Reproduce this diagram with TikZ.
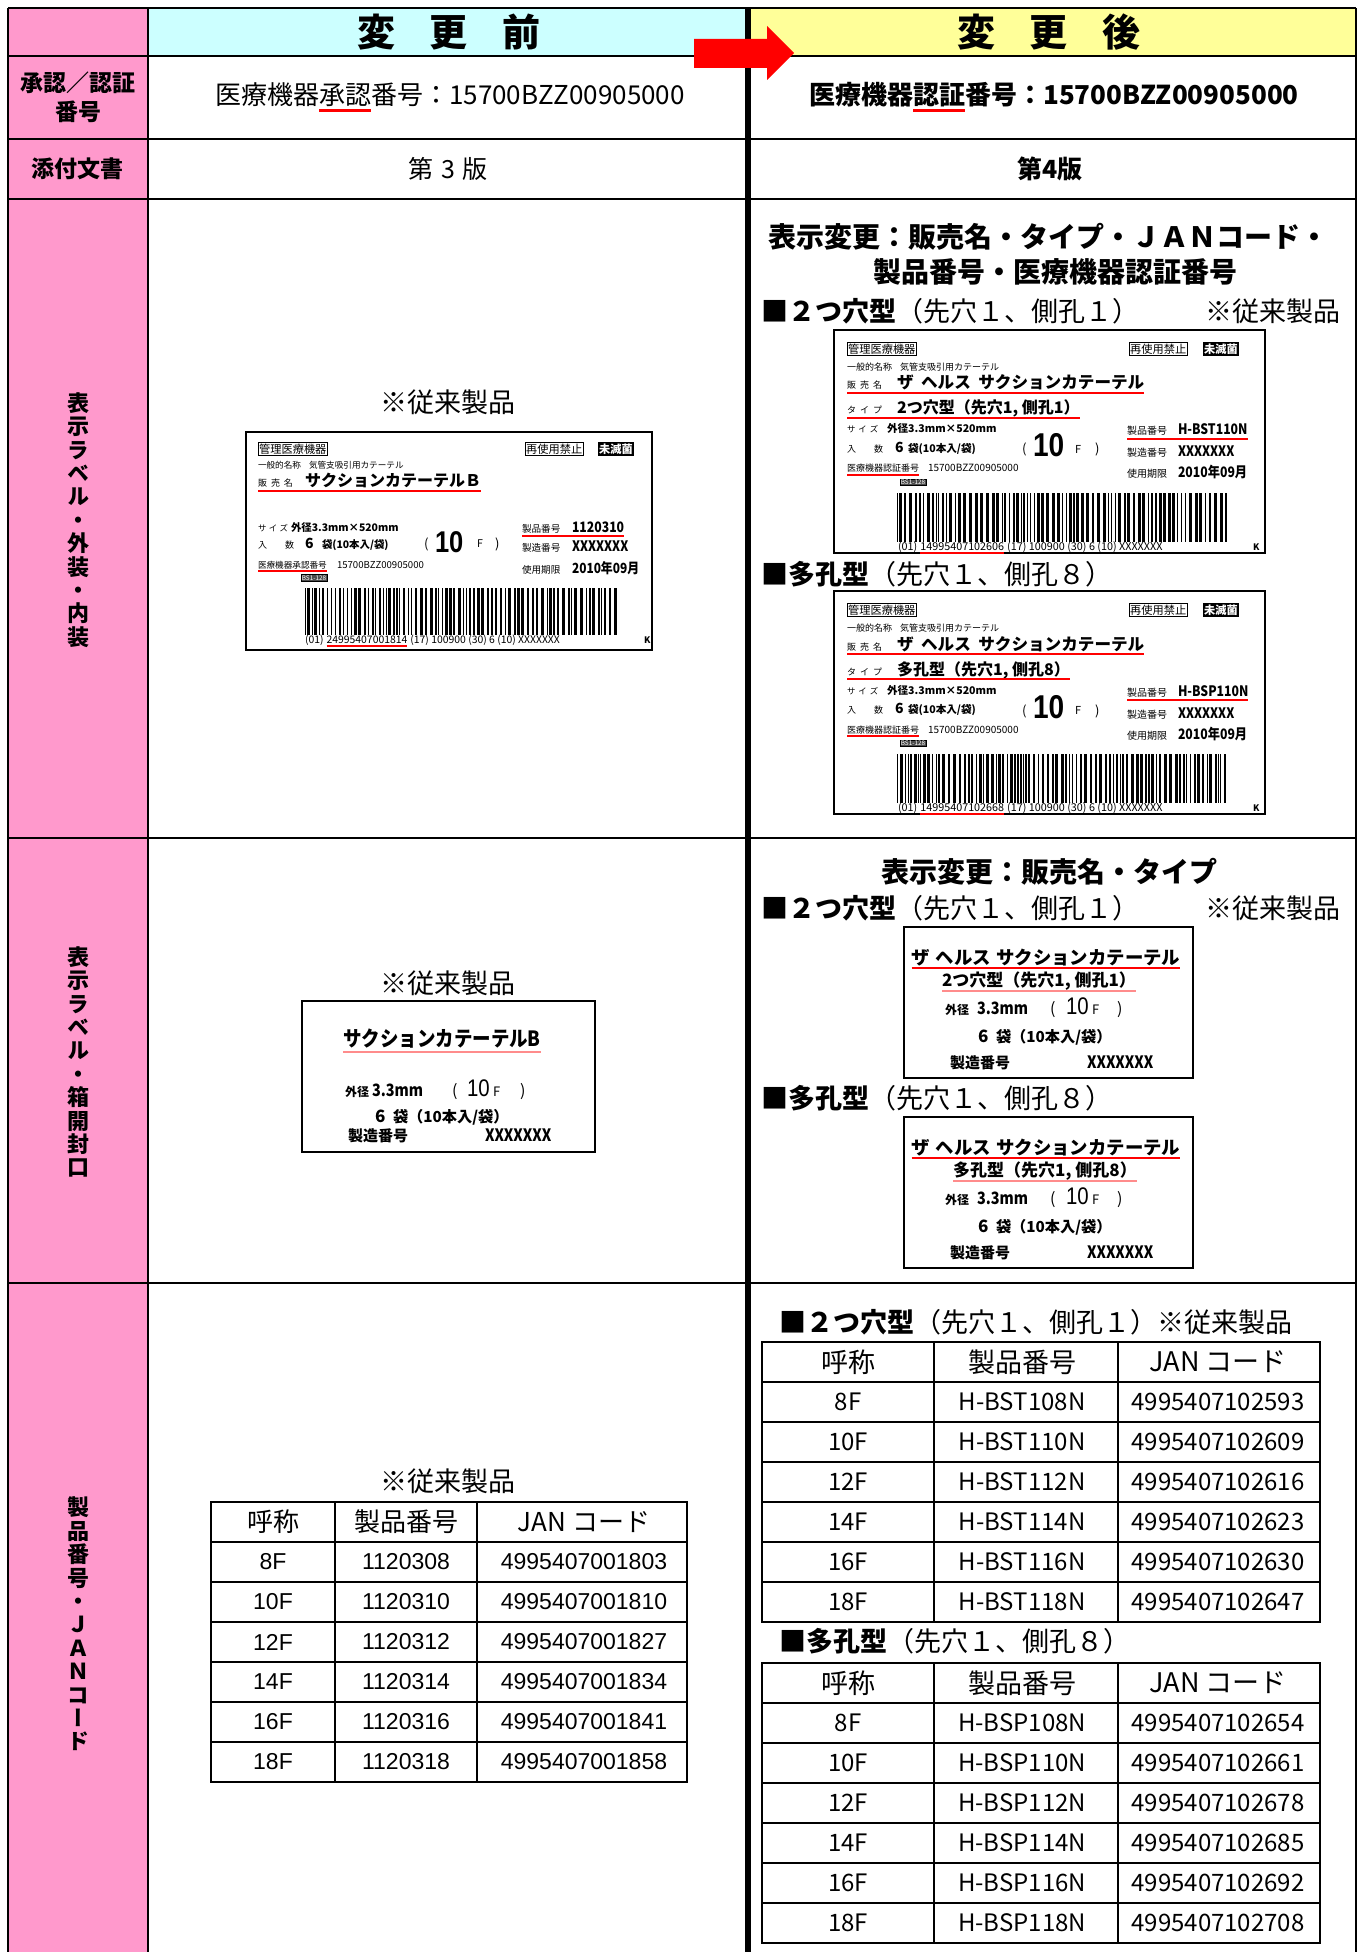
\documentclass[tikz,border=0pt]{standalone}
\usepackage{fontspec}
\setmainfont{Noto Sans CJK JP}
\newfontfamily\vjp{Noto Sans CJK JP}[RawFeature=+vert]
\newfontfamily\lsans{Liberation Sans}
\usetikzlibrary{calc}
\definecolor{pinkc}{HTML}{FF99CC}
\definecolor{cyanc}{HTML}{CCFFFF}
\definecolor{yellc}{HTML}{FFFF99}
\newcommand\fsz[1]{\fontsize{#1}{#1}\selectfont}
\newcommand\thd{\normalfont\fsz{13}}
\newcommand\rthd{\normalfont\fsz{13.5}}
\newcommand\cnd[1]{\scalebox{0.85}[1]{#1}}
\newsavebox\ulbox
\newcommand\redul[1]{\sbox\ulbox{#1}\rlap{\color{red}\rule[-0.3em]{\wd\ulbox}{0.12em}}\usebox\ulbox}
\newcommand\bcode[5]{%
  \pgfmathsetseed{#5}%
  \pgfmathsetmacro\bcend{#1+#3-3}%
  \edef\bcpos{#1}%
  \loop
    \pgfmathsetmacro\bcw{0.9*random(1,3)+0.3}%
    \pgfmathsetmacro\bcs{0.9*random(1,3)+0.3}%
    \fill (\bcpos,#2) rectangle ++(\bcw,#4);
    \pgfmathsetmacro\bcpos{\bcpos+\bcw+\bcs}%
  \ifdim\bcpos pt<\bcend pt\repeat
}
\tikzset{
  tx/.style={inner sep=0pt, outer sep=0pt},
  gridl/.style={line width=1.2pt},
  midl/.style={line width=3.2pt},
  tbl/.style={line width=0.8pt},
  lblbox/.style={line width=1.1pt},
  ul/.style={red, line width=0.55pt},
  ulp/.style={red!45, line width=0.7pt},
  tag/.style={tx, draw, line width=0.35pt, inner xsep=0.6pt, inner ysep=0.5pt, anchor=west, font=\fsz{5.6}},
  blk/.style={tx, fill=black, text=white, inner xsep=0.6pt, inner ysep=0.8pt, anchor=west, font=\fsz{5.6}\bfseries},
  bs/.style={tx, draw, fill=black!70, text=white, inner sep=0.4pt, font=\fsz{3.2}},
  vlab/.style={tx, align=center, font=\vjp\bfseries\fontsize{11}{11.7}\selectfont},
  ltab/.style={tx, font=\lsans\fsz{11.5}},
  rtab/.style={tx, font=\fsz{12}},
}
\newcommand\rlbl[7]{%
\begin{scope}[shift={(#2,#3)}]
\draw[lblbox] (0,0) rectangle (431,223);
\node[tag] (#1a) at (13,19) {管理医療機器};
\node[tag] (#1b) at (295,19) {再使用禁止};
\node[blk] (#1c) at (369,19) {未滅菌};
\node[tx, anchor=west, font=\fsz{4.5}] (#1d) at (13,37) {一般的名称\hspace{4pt}気管支吸引用カテーテル};
\node[tx, anchor=base west, font=\fsz{4.5}] (#1e) at (13,59) {販\hspace{2pt}売\hspace{2pt}名};
\node[tx, anchor=base west, font=\fsz{8.3}\bfseries] (#1f) at (63,59) {ザ\hspace{0.45em}ヘルス\hspace{0.45em}サクションカテーテル};
\draw[ul] ($(#1e.base west)+(0,4)$) -- ($(#1f.base east)+(0,4)$);
\node[tx, anchor=base west, font=\fsz{4.5}] (#1g) at (13,84) {タ\hspace{2pt}イ\hspace{2pt}プ};
\node[tx, anchor=base west, font=\fsz{8}\bfseries] (#1h) at (63,84) {#4};
\draw[ul] ($(#1g.base west)+(0,4)$) -- ($(#1h.base east)+(0,4)$);
\node[tx, anchor=base west, font=\fsz{4.2}] (#1i) at (13,103) {サ\hspace{1.5pt}イ\hspace{1.5pt}ズ};
\node[tx, anchor=base west, font=\fsz{5.3}\bfseries] (#1j) at (53,103) {外径3.3mm×520mm};
\node[tx, anchor=base west, font=\fsz{4.5}] (#1k) at (13,122) {入\hspace{9pt}数};
\node[tx, anchor=base west, font=\fsz{7}\bfseries] (#1l) at (61,122) {6};
\node[tx, anchor=base west, font=\fsz{5.3}\bfseries] (#1m) at (74,122) {袋(10本入/袋)};
\node[tx, anchor=base west, font=\fsz{6.5}] (#1n) at (188,124) {(};
\node[tx, anchor=base west, font=\lsans\fsz{16.5}\bfseries] (#1o) at (199,127) {\cnd{10}};
\node[tx, anchor=base west, font=\fsz{5.5}] (#1p) at (241,123) {F};
\node[tx, anchor=base west, font=\fsz{6.5}] (#1q) at (261,124) {)};
\node[tx, anchor=base west, font=\fsz{5}] (#1r) at (293,105) {製品番号};
\node[tx, anchor=base west, font=\fsz{7.2}\bfseries] (#1s) at (344,105) {\cnd{#5}};
\draw[ul] ($(#1r.base west)+(0,4)$) -- ($(#1s.base east)+(0,4)$);
\node[tx, anchor=base west, font=\fsz{5}] (#1t) at (293,127) {製造番号};
\node[tx, anchor=base west, font=\fsz{7.2}\bfseries] (#1u) at (344,127) {\cnd{XXXXXXX}};
\node[tx, anchor=base west, font=\fsz{5}] (#1v) at (293,148) {使用期限};
\node[tx, anchor=base west, font=\fsz{7.2}\bfseries] (#1w) at (344,148) {\cnd{2010年09月}};
\node[tx, anchor=base west, font=\fsz{4.5}] (#1x) at (13,142) {医療機器認証番号};
\draw[ul] ($(#1x.base west)+(0,3)$) -- ($(#1x.base east)+(0,3)$);
\node[tx, anchor=base west, font=\fsz{5}] (#1y) at (94,142) {15700BZZ00905000};
\node[bs] (#1z) at (79,152.5) {BS1-128};
\bcode{63}{163}{333}{49}{#7}
\node[tx, anchor=base west, font=\fsz{5.4}] (#1ba) at (64,220) {(01)};
\node[tx, anchor=base west, font=\fsz{5.4}, xshift=1.5pt] (#1bb) at (#1ba.base east) {#6};
\node[tx, anchor=base west, font=\fsz{5.4}, xshift=1.5pt] (#1bc) at (#1bb.base east) {(17) 100900 (30) 6 (10) XXXXXXX};
\draw[ul] ($(#1bb.base west)+(0,3)$) -- ($(#1bb.base east)+(0,3)$);
\node[tx, anchor=base west, font=\fsz{4.5}\bfseries] (#1bk) at (419,220) {K};
\end{scope}}
\newcommand\mlbl[5]{%
\begin{scope}[shift={(#2,#3)}]
\draw[lblbox] (0,0) rectangle (289,151);
\node[tx, anchor=base, font=\fsz{9.2}\bfseries] (#1n) at (142,37) {ザ\hspace{0.3em}ヘルス\hspace{0.3em}サクションカテーテル};
\draw[ul] ($(#1n.base west)+(0,4)$) -- ($(#1n.base east)+(0,4)$);
\node[tx, anchor=base, font=\fsz{8.5}\bfseries] (#1t) at (#5,59) {#4};
\draw[ulp] ($(#1t.base west)+(0,5)$) -- ($(#1t.base east)+(0,5)$);
\node[tx, anchor=base west, font=\fsz{6}\bfseries] (#1g) at (41,87) {外径};
\node[tx, anchor=base west, font=\fsz{8.5}\bfseries] (#1s) at (73,87) {\cnd{3.3mm}};
\node[tx, anchor=base west, font=\fsz{8}] (#1p) at (146,87) {(};
\node[tx, anchor=base west, font=\lsans\fsz{12}] (#1o) at (162,87) {\cnd{10}};
\node[tx, anchor=base west, font=\fsz{6.5}] (#1f) at (188,87) {F};
\node[tx, anchor=base west, font=\fsz{8}] (#1q) at (213,87) {)};
\node[tx, anchor=base west, font=\fsz{8.5}\bfseries] (#1six) at (74,115) {6};
\node[tx, anchor=base west, font=\fsz{7.6}\bfseries] (#1bag) at (92,115) {袋（10本入/袋）};
\node[tx, anchor=base west, font=\fsz{7.5}\bfseries] (#1mk) at (46,141) {製造番号};
\node[tx, anchor=base west, font=\fsz{8.5}\bfseries] (#1xx) at (183,141) {\cnd{XXXXXXX}};
\end{scope}}
\begin{document}
\begin{tikzpicture}[x=0.5pt,y=-0.5pt]
\useasboundingbox (0,0) rectangle (1359,1952);
\fill[white] (0,0) rectangle (1359,1952);
\fill[pinkc] (8,8) rectangle (148,1952);
\fill[cyanc] (148,8) rectangle (748,56);
\fill[yellc] (748,8) rectangle (1356,56);
\foreach \y in {8,56,139,199,838,1283} \draw[gridl] (8,\y) -- (1356,\y);
\draw[gridl] (8,8) -- (8,1952);
\draw[gridl] (148,8) -- (148,1952);
\draw[gridl] (1356,8) -- (1356,1952);
\draw[midl] (748,8) -- (748,1952);
% header row
\node[tx, font=\fsz{19}\bfseries] (hbefore) at (449,32) {変\hspace{0.9em}更\hspace{0.9em}前};
\node[tx, font=\fsz{19}\bfseries] (hafter) at (1049,32) {変\hspace{0.9em}更\hspace{0.9em}後};
% row 2
\node[tx, align=center, font=\bfseries\fontsize{11.5}{14.5}\selectfont] (r2lab) at (78,97) {承認／認証\\番号};
\node[tx, font=\fsz{13}] (r2l) at (450,97) {医療機器\redul{承認}番号：15700BZZ00905000};
\node[tx, font=\fsz{13}\bfseries] (r2r) at (1054,97) {医療機器\redul{認証}番号：15700BZZ00905000};
% row 3
\node[tx, font=\fsz{11.5}\bfseries] (r3lab) at (78,169) {添付文書};
\node[tx, font=\fsz{12.5}] (r3l) at (448,169) {第\hspace{0.3em}3\hspace{0.3em}版};
\node[tx, font=\fsz{12.5}\bfseries] (r3r) at (1050,169) {第4版};
% vertical labels
\node[vlab] (v4) at (78,520) {表\\示\\ラ\\ベ\\ル\\・\\外\\装\\・\\内\\装};
\node[vlab] (v5) at (78,1062) {表\\示\\ラ\\ベ\\ル\\・\\箱\\開\\封\\口};
\node[vlab] (v6) at (78,1624) {製\\品\\番\\号\\・\\Ｊ\\Ａ\\Ｎ\\コ\\ー\\ド};
% row 4 left
\node[tx, font=\fsz{13.5}] (c4l) at (448,402) {※従来製品};
\begin{scope}[shift={(246,432)}]
\draw[lblbox] (0,0) rectangle (406,218);
\node[tag] (La) at (12,17) {管理医療機器};
\node[tag] (Lb) at (279,17) {再使用禁止};
\node[blk] (Lc) at (352,17) {未滅菌};
\node[tx, anchor=west, font=\fsz{4.3}] (Ld) at (12,33) {一般的名称\hspace{4pt}気管支吸引用カテーテル};
\node[tx, anchor=base west, font=\fsz{4.5}] (Le) at (12,55) {販\hspace{2pt}売\hspace{2pt}名};
\node[tx, anchor=base west, font=\fsz{8}\bfseries] (Lf) at (59,55) {サクションカテーテルＢ};
\draw[ul] ($(Le.base west)+(0,4)$) -- ($(Lf.base east)+(0,4)$);
\node[tx, anchor=base west, font=\fsz{4.2}] (Lg) at (12,99) {サ\hspace{1.2pt}イ\hspace{1.2pt}ズ};
\node[tx, anchor=base west, font=\fsz{5.2}\bfseries] (Lh) at (45,99) {外径3.3mm×520mm};
\node[tx, anchor=base west, font=\fsz{4.5}] (Li) at (12,116) {入\hspace{9pt}数};
\node[tx, anchor=base west, font=\fsz{7}\bfseries] (Lj) at (59,116) {6};
\node[tx, anchor=base west, font=\fsz{5.2}\bfseries] (Lk) at (76,116) {袋(10本入/袋)};
\node[tx, anchor=base west, font=\fsz{6.5}] (Ll) at (178,116) {(};
\node[tx, anchor=base west, font=\lsans\fsz{15}\bfseries] (Lm) at (189,120) {\cnd{10}};
\node[tx, anchor=base west, font=\fsz{5.3}] (Ln) at (231,115) {F};
\node[tx, anchor=base west, font=\fsz{6.5}] (Lo) at (249,116) {)};
\node[tx, anchor=base west, font=\fsz{4.8}] (Lp) at (276,100) {製品番号};
\node[tx, anchor=base west, font=\fsz{7.2}\bfseries] (Lq) at (326,100) {\cnd{1120310}};
\draw[ul] ($(Lp.base west)+(0,4)$) -- ($(Lq.base east)+(0,4)$);
\node[tx, anchor=base west, font=\fsz{4.8}] (Lr) at (276,119) {製造番号};
\node[tx, anchor=base west, font=\fsz{7.2}\bfseries] (Ls) at (326,119) {\cnd{XXXXXXX}};
\node[tx, anchor=base west, font=\fsz{4.8}] (Lt) at (276,141) {使用期限};
\node[tx, anchor=base west, font=\fsz{7}\bfseries] (Lu) at (326,141) {\cnd{2010年09月}};
\node[tx, anchor=base west, font=\fsz{4.3}] (Lv) at (12,136) {医療機器承認番号};
\draw[ul] ($(Lv.base west)+(0,3)$) -- ($(Lv.base east)+(0,3)$);
\node[tx, anchor=base west, font=\fsz{4.8}] (Lw) at (91,136) {15700BZZ00905000};
\node[bs] (Lz) at (68,146) {BS1-128};
\bcode{59}{156}{316}{47}{7}
\node[tx, anchor=base west, font=\fsz{5.2}] (Lba) at (59,211) {(01)};
\node[tx, anchor=base west, font=\fsz{5.2}, xshift=1.5pt] (Lbb) at (Lba.base east) {24995407001814};
\node[tx, anchor=base west, font=\fsz{5.2}, xshift=1.5pt] (Lbc) at (Lbb.base east) {(17) 100900 (30) 6 (10) XXXXXXX};
\draw[ul] ($(Lbb.base west)+(0,3)$) -- ($(Lbb.base east)+(0,3)$);
\node[tx, anchor=base west, font=\fsz{4.5}\bfseries] (Lbk) at (398,211) {K};
\end{scope}
% row 4 right
\node[tx, font=\fsz{14}\bfseries] (h4a) at (1048,237) {表示変更：販売名・タイプ・ＪＡＮコード・};
\node[tx, font=\fsz{14}\bfseries] (h4b) at (1055,272) {製品番号・医療機器認証番号};
\node[tx, anchor=west, font=\fsz{13.5}] (h4c) at (761,311) {{\bfseries ■２つ穴型}（先穴１、側孔１）};
\node[tx, anchor=east, font=\fsz{13.5}] (h4d) at (1340,311) {※従来製品};
\rlbl{RA}{834}{330}{2つ穴型（先穴1, 側孔1）}{H-BST110N}{14995407102606}{3}
\node[tx, anchor=west, font=\fsz{13.5}] (h4e) at (761,574) {{\bfseries ■多孔型}（先穴１、側孔８）};
\rlbl{RB}{834}{591}{多孔型（先穴1, 側孔8）}{H-BSP110N}{14995407102668}{5}
% row 5 left
\node[tx, font=\fsz{13.5}] (c5l) at (448,983) {※従来製品};
\begin{scope}[shift={(302,1001)}]
\draw[lblbox] (0,0) rectangle (293,151);
\node[tx, anchor=base, font=\fsz{10.5}\bfseries] (Mn) at (140,45) {\scalebox{0.88}[1]{サクションカテーテルB}};
\draw[ulp] ($(Mn.base west)+(0,6)$) -- ($(Mn.base east)+(0,6)$);
\node[tx, anchor=base west, font=\fsz{6}\bfseries] (Mg) at (43,95) {外径};
\node[tx, anchor=base west, font=\fsz{8.5}\bfseries] (Ms) at (70,95) {\cnd{3.3mm}};
\node[tx, anchor=base west, font=\fsz{8}] (Mp) at (150,95) {(};
\node[tx, anchor=base west, font=\lsans\fsz{12}] (Mo) at (165,95) {\cnd{10}};
\node[tx, anchor=base west, font=\fsz{6.5}] (Mf) at (191,95) {F};
\node[tx, anchor=base west, font=\fsz{8}] (Mq) at (218,95) {)};
\node[tx, anchor=base west, font=\fsz{8.5}\bfseries] (Msix) at (73,121) {6};
\node[tx, anchor=base west, font=\fsz{7.6}\bfseries] (Mbag) at (91,121) {袋（10本入/袋）};
\node[tx, anchor=base west, font=\fsz{7.5}\bfseries] (Mmk) at (46,140) {製造番号};
\node[tx, anchor=base west, font=\fsz{8.5}\bfseries] (Mxx) at (183,140) {\cnd{XXXXXXX}};
\end{scope}
% row 5 right
\node[tx, font=\fsz{14}\bfseries] (h5a) at (1049,872) {表示変更：販売名・タイプ};
\node[tx, anchor=west, font=\fsz{13.5}] (h5b) at (761,908) {{\bfseries ■２つ穴型}（先穴１、側孔１）};
\node[tx, anchor=east, font=\fsz{13.5}] (h5c) at (1340,908) {※従来製品};
\mlbl{MA}{904}{927}{2つ穴型（先穴1, 側孔1）}{135}
\node[tx, anchor=west, font=\fsz{13.5}] (h5d) at (761,1098) {{\bfseries ■多孔型}（先穴１、側孔８）};
\mlbl{MB}{904}{1117}{多孔型（先穴1, 側孔8）}{141}
% row 6 left table
\node[tx, font=\fsz{13.5}] (c6l) at (448,1481) {※従来製品};
\draw[tbl] (211,1502) rectangle (687,1782);
\foreach \y in {1542,1582,1622,1662,1702,1742} \draw[tbl] (211,\y) -- (687,\y);
\draw[tbl] (335,1502) -- (335,1782);
\draw[tbl] (477,1502) -- (477,1782);
\foreach \a/\b/\c [count=\i from 0] in {{\thd 呼称}/{\thd 製品番号}/{\thd JAN コード}, 8F/1120308/4995407001803, 10F/1120310/4995407001810, 12F/1120312/4995407001827, 14F/1120314/4995407001834, 16F/1120316/4995407001841, 18F/1120318/4995407001858}{
  \node[ltab] (lt\i-a) at (273,1522+40*\i) {\a};
  \node[ltab] (lt\i-b) at (406,1522+40*\i) {\b};
  \node[ltab] (lt\i-c) at (584,1522+40*\i) {\c};
}
% row 6 right tables
\node[tx, anchor=west, font=\fsz{13.5}] (h6a) at (779,1322) {{\bfseries ■２つ穴型}（先穴１、側孔１）※従来製品};
\draw[tbl] (762,1342) rectangle (1320,1622);
\foreach \y in {1382,1422,1462,1502,1542,1582} \draw[tbl] (762,\y) -- (1320,\y);
\draw[tbl] (934,1342) -- (934,1622);
\draw[tbl] (1118,1342) -- (1118,1622);
\foreach \a/\b/\c [count=\i from 0] in {{\rthd 呼称}/{\rthd 製品番号}/{\rthd JAN コード}, 8F/H-BST108N/4995407102593, 10F/H-BST110N/4995407102609, 12F/H-BST112N/4995407102616, 14F/H-BST114N/4995407102623, 16F/H-BST116N/4995407102630, 18F/H-BST118N/4995407102647}{
  \node[rtab] (ra\i-a) at (848,1362+40*\i) {\a};
  \node[rtab] (ra\i-b) at (1022,1362+40*\i) {\b};
  \node[rtab] (ra\i-c) at (1218,1362+40*\i) {\c};
}
\node[tx, anchor=west, font=\fsz{13.5}] (h6b) at (779,1641) {{\bfseries ■多孔型}（先穴１、側孔８）};
\draw[tbl] (762,1663) rectangle (1320,1943);
\foreach \y in {1703,1743,1783,1823,1863,1903} \draw[tbl] (762,\y) -- (1320,\y);
\draw[tbl] (934,1663) -- (934,1943);
\draw[tbl] (1118,1663) -- (1118,1943);
\foreach \a/\b/\c [count=\i from 0] in {{\rthd 呼称}/{\rthd 製品番号}/{\rthd JAN コード}, 8F/H-BSP108N/4995407102654, 10F/H-BSP110N/4995407102661, 12F/H-BSP112N/4995407102678, 14F/H-BSP114N/4995407102685, 16F/H-BSP116N/4995407102692, 18F/H-BSP118N/4995407102708}{
  \node[rtab] (rb\i-a) at (848,1683+40*\i) {\a};
  \node[rtab] (rb\i-b) at (1022,1683+40*\i) {\b};
  \node[rtab] (rb\i-c) at (1218,1683+40*\i) {\c};
}
% red arrow
\fill[red] (694,39) -- (767,39) -- (767,26) -- (794,53) -- (767,80) -- (767,68) -- (694,68) -- cycle;
\end{tikzpicture}
\end{document}
